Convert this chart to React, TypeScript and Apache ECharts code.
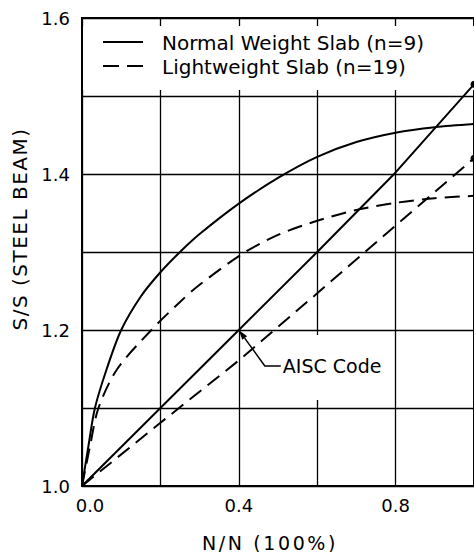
import React, { useEffect, useRef } from "react";
import * as echarts from "echarts";

// Effective section modulus ratio vs. degree of shear connection
const normalWeightSlab: [number, number][] = [
  [0, 1.0], [0.016, 1.05], [0.033, 1.1], [0.063, 1.15], [0.1, 1.2],
  [0.15, 1.243], [0.2, 1.274], [0.25, 1.3], [0.3, 1.323], [0.4, 1.362],
  [0.5, 1.395], [0.6, 1.422], [0.7, 1.441], [0.8, 1.453], [0.9, 1.46], [1.0, 1.464],
];
const lightweightSlab: [number, number][] = [
  [0, 1.0], [0.02, 1.05], [0.042, 1.1], [0.09, 1.15], [0.177, 1.2],
  [0.25, 1.236], [0.3, 1.258], [0.41, 1.298], [0.5, 1.322], [0.6, 1.34],
  [0.7, 1.354], [0.8, 1.363], [0.9, 1.369], [1.0, 1.372],
];
const aiscNormal: [number, number][] = [
  [0, 1.0], [0.2, 1.1], [0.4, 1.2], [0.6, 1.3], [0.8, 1.402], [1.0, 1.515],
];
const aiscLight: [number, number][] = [
  [0, 1.0], [0.2, 1.081], [0.4, 1.161], [0.6, 1.247], [0.8, 1.334], [1.0, 1.42],
];

const seriesNames = ["Normal Weight Slab (n=9)", "Lightweight Slab (n=19)"];
const yTickLabels = ["1.0", "1.2", "1.4", "1.6"];
const xTickLabels = ["0.0", "0.4", "0.8"];
const xTitle = "N/N (100%)";
const yTitle = "S/S (STEEL BEAM)";
const aiscLabel = "AISC Code";
const aiscPoint: [number, number] = [0.4, 1.2];

const FONT = "DejaVu Sans";
const DASH = [15, 8];

// wide hand-lettered spacing for the axis titles
const letterSpacing: Record<string, number> = {
  [yTitle]: 1.5,
  [xTitle]: 2.6,
};

function withEndDot(data: [number, number][]) {
  return data.map((d, i) =>
    i === data.length - 1 ? { value: d, symbol: "circle", symbolSize: 7 } : { value: d }
  );
}

export default function App() {
  const ref = useRef<HTMLDivElement>(null);

  useEffect(() => {
    if (!ref.current) return;
    const chart = echarts.init(ref.current, undefined, { renderer: "svg" });

    const lineBase = { type: "line" as const, symbol: "none", clip: false, silent: true };

    chart.setOption({
      animation: false,
      backgroundColor: "#fff",
      grid: {
        left: 82, top: 18, width: 392, height: 468,
        containLabel: false,
        outerBoundsMode: "none",
        show: true, borderColor: "#000", borderWidth: 2, backgroundColor: "transparent",
      },
      xAxis: {
        type: "value",
        min: 0, max: 1, interval: 0.2,
        name: xTitle,
        nameLocation: "middle",
        nameGap: 47,
        nameTextStyle: { fontFamily: FONT, fontSize: 19, color: "#000", padding: [0, 16, 0, 0] },
        axisLine: { show: true, lineStyle: { color: "#000", width: 2 } },
        axisTick: { show: false },
        splitLine: { show: true, lineStyle: { color: "#000", width: 1.3 } },
        axisLabel: {
          margin: 10,
          fontFamily: FONT, fontSize: 18, color: "#000",
          formatter: (v: number) => {
            const s = v.toFixed(1);
            if (!xTickLabels.includes(s)) return "";
            return v === 0 ? "{first|" + s + "}" : s;
          },
          rich: { first: { fontFamily: FONT, fontSize: 18, color: "#000", padding: [0, 0, 0, 16] } },
        },
      },
      yAxis: {
        type: "value",
        min: 1.0, max: 1.6, interval: 0.1,
        name: yTitle,
        nameLocation: "middle",
        nameGap: 50,
        nameTextStyle: { fontFamily: FONT, fontSize: 20, color: "#000", padding: [0, 0, 0, 46] },
        axisLine: { show: true, lineStyle: { color: "#000", width: 2 } },
        axisTick: { show: false },
        splitLine: { show: true, lineStyle: { color: "#000", width: 1.3 } },
        axisLabel: {
          margin: 12,
          fontFamily: FONT, fontSize: 18, color: "#000",
          padding: [6, 0, 0, 0],
          formatter: (v: number) => {
            const s = v.toFixed(1);
            return yTickLabels.includes(s) ? s : "";
          },
        },
      },
      series: [
        {
          ...lineBase, name: seriesNames[0], data: normalWeightSlab, smooth: 0.3,
          lineStyle: { color: "#000", width: 2 }, itemStyle: { color: "#000" },
        },
        {
          ...lineBase, name: seriesNames[1], data: lightweightSlab, smooth: 0.3,
          lineStyle: { color: "#000", width: 2, type: DASH }, itemStyle: { color: "#000" },
        },
        {
          ...lineBase, name: "AISC (normal weight)", data: withEndDot(aiscNormal),
          lineStyle: { color: "#000", width: 2 }, itemStyle: { color: "#000" },
        },
        {
          ...lineBase, name: "AISC (lightweight)", data: withEndDot(aiscLight),
          lineStyle: { color: "#000", width: 2, type: DASH }, itemStyle: { color: "#000" },
        },
      ],
    });

    // Annotations placed from data coordinates
    const [tx, ty] = chart.convertToPixel({ gridIndex: 0 }, aiscPoint) as number[];
    const [gx0, gyTop] = chart.convertToPixel({ gridIndex: 0 }, [0, 1.6]) as number[];
    const [gx1, gy15] = chart.convertToPixel({ gridIndex: 0 }, [1.0, 1.5]) as number[];
    const [g06x] = chart.convertToPixel({ gridIndex: 0 }, [0.6, 1.0]) as number[];

    const elbowX = tx + 26;
    const elbowY = ty + 36;
    const endX = elbowX + 16;
    const dx = tx - elbowX, dy = ty - elbowY;
    const len = Math.hypot(dx, dy);
    const ux = dx / len, uy = dy / len;
    const aL = 10, aW = 3;
    const bx = tx - ux * aL, by = ty - uy * aL;

    // key, inside the top band of the plot
    const keyX = gx0 + 21;
    const keyTextX = gx0 + 80;
    const row1 = gyTop + 25;
    const row2 = gyTop + 49;

    chart.setOption({
      graphic: [
        {
          type: "rect", z: 1, silent: true,
          shape: { x: gx0 + 1, y: gyTop + 8, width: gx1 - gx0, height: gy15 - gyTop - 14 },
          style: { fill: "#fff" },
        },
        {
          type: "rect", z: 1, silent: true,
          shape: { x: g06x - 8, y: elbowY - 31, width: 16, height: 65 },
          style: { fill: "#fff" },
        },
        {
          type: "line", z: 3, silent: true,
          shape: { x1: keyX, y1: row1 - 1, x2: keyX + 40, y2: row1 - 1 },
          style: { stroke: "#000", lineWidth: 2 },
        },
        {
          type: "line", z: 3, silent: true,
          shape: { x1: keyX, y1: row2 - 1, x2: keyX + 40, y2: row2 - 1 },
          style: { stroke: "#000", lineWidth: 2, lineDash: [16, 8] },
        },
        {
          type: "text", z: 3, silent: true,
          x: keyTextX, y: row1,
          style: {
            text: seriesNames[0], fontFamily: FONT, fontSize: 20, fill: "#000",
            verticalAlign: "middle", align: "left",
          },
        },
        {
          type: "text", z: 3, silent: true,
          x: keyTextX, y: row2,
          style: {
            text: seriesNames[1], fontFamily: FONT, fontSize: 20, fill: "#000",
            verticalAlign: "middle", align: "left",
          },
        },
        {
          type: "polyline", z: 3, silent: true,
          shape: { points: [[bx, by], [elbowX, elbowY], [endX, elbowY]] },
          style: { stroke: "#000", lineWidth: 1.5, fill: null },
        },
        {
          type: "polygon", z: 3, silent: true,
          shape: {
            points: [
              [tx, ty],
              [bx - uy * aW, by + ux * aW],
              [bx + uy * aW, by - ux * aW],
            ],
          },
          style: { fill: "#000" },
        },
        {
          type: "text", z: 3, silent: true,
          x: endX + 2, y: elbowY,
          style: {
            text: aiscLabel, fontFamily: FONT, fontSize: 19, fill: "#000",
            verticalAlign: "middle", align: "left",
          },
        },
      ],
    });

    ref.current.querySelectorAll("text").forEach((t) => {
      const s = letterSpacing[t.textContent || ""];
      if (s) t.setAttribute("letter-spacing", String(s));
    });

    return () => chart.dispose();
  }, []);

  return (
    <div
      ref={ref}
      style={{ position: "fixed", left: 0, top: 0, width: 474, height: 552, background: "#fff" }}
    />
  );
}
